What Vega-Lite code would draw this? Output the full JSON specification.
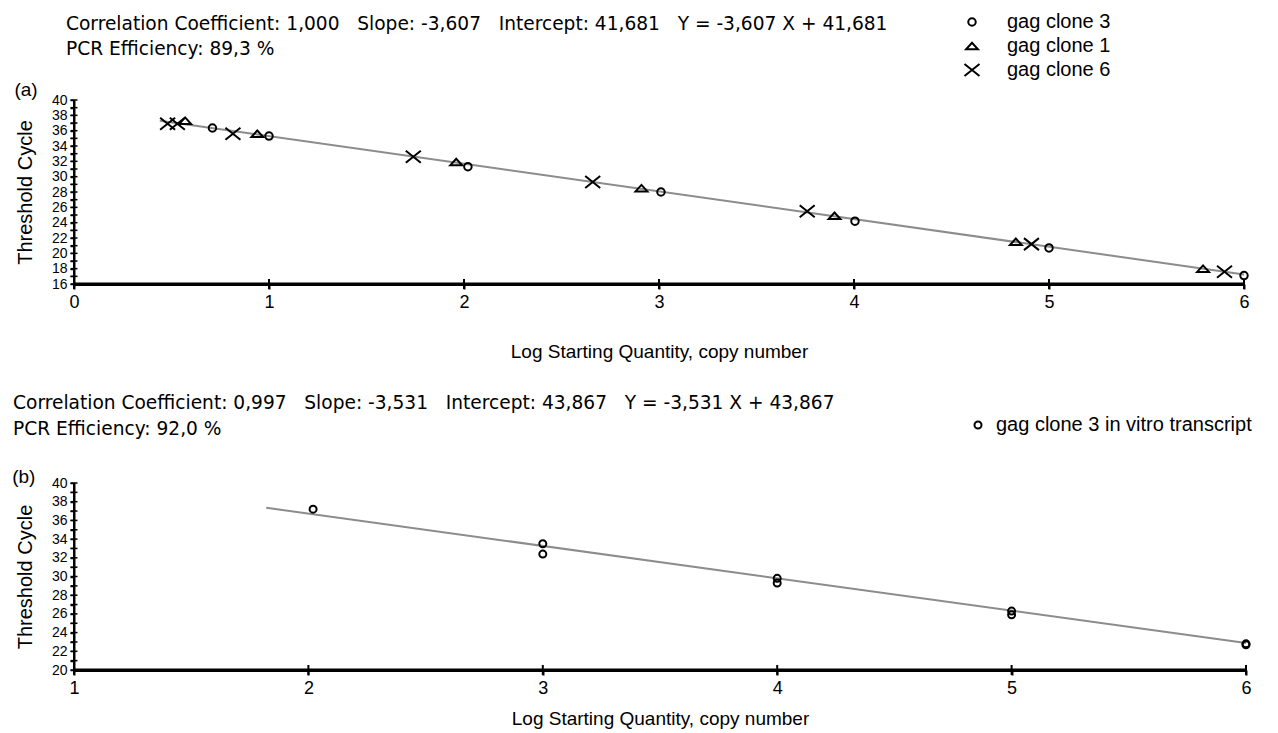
{
  "$schema": "https://vega.github.io/schema/vega-lite/v6.json",
  "padding": {"left": 12, "top": 12, "right": 5, "bottom": 5},
  "background": "white",
  "config": {
    "view": {"stroke": null},
    "font": "Liberation Sans",
    "axis": {"grid": false, "domainColor": "black", "tickColor": "black", "labelColor": "black", "titleColor": "black", "labelFont": "Liberation Sans", "titleFont": "Liberation Sans", "titleFontWeight": "normal", "labelFlush": false, "labelBound": false, "labelOverlap": false},
    "legend": {"labelFont": "Liberation Sans", "labelColor": "black"}
  },
  "bounds": "flush",
  "spacing": 199,
  "resolve": {"scale": {"shape": "independent", "size": "independent"}, "legend": {"shape": "independent", "size": "independent"}},
  "vconcat": [
    {
      "width": 1170,
      "height": 184,
      "resolve": {"axis": {"x": "independent", "y": "independent"}},
      "layer": [
        {
          "data": {"values": [{"logq": 0.44, "ct": 37.3}, {"logq": 6.0, "ct": 17.25}]},
          "mark": {"type": "line", "color": "#8c8c8c", "strokeWidth": 2},
          "encoding": {
            "x": {"field": "logq", "type": "quantitative", "scale": {"domain": [0, 6], "nice": false, "zero": false},
              "axis": {"values": [0, 1, 2, 3, 4, 5, 6], "format": "d", "title": "Log Starting Quantity, copy number", "titleFontSize": 19, "titlePadding": 31, "labelFontSize": 18, "labelPadding": 4, "tickSize": 5, "tickWidth": 2, "domainWidth": 3}},
            "y": {"field": "ct", "type": "quantitative", "scale": {"domain": [16, 40], "nice": false, "zero": false},
              "axis": {"values": [16,17,18,19,20,21,22,23,24,25,26,27,28,29,30,31,32,33,34,35,36,37,38,39,40], "labelExpr": "datum.value % 2 === 0 ? datum.label : ''", "title": "Threshold Cycle", "titleFontSize": 20, "titlePadding": 16, "labelFontSize": 14, "labelPadding": 3, "tickSize": 4, "tickWidth": 1.5, "domainWidth": 2}}
          }
        },
        {
          "data": {"values": [{}]},
          "mark": {"type": "rule", "color": "black", "strokeWidth": 3},
          "encoding": {
            "x": {"datum": 0, "type": "quantitative", "axis": null},
            "x2": {"datum": 6},
            "y": {"datum": 16, "type": "quantitative", "axis": null}
          }
        },
        {
          "data": {"values": [{}]},
          "mark": {"type": "rule", "color": "black", "strokeWidth": 2},
          "encoding": {
            "x": {"datum": 0, "type": "quantitative", "axis": null},
            "y": {"datum": 16, "type": "quantitative", "axis": null},
            "y2": {"datum": 40}
          }
        },
        {
          "data": {"values": [{"tick": 16},{"tick": 17},{"tick": 18},{"tick": 19},{"tick": 20},{"tick": 21},{"tick": 22},{"tick": 23},{"tick": 24},{"tick": 25},{"tick": 26},{"tick": 27},{"tick": 28},{"tick": 29},{"tick": 30},{"tick": 31},{"tick": 32},{"tick": 33},{"tick": 34},{"tick": 35},{"tick": 36},{"tick": 37},{"tick": 38},{"tick": 39},{"tick": 40}]},
          "mark": {"type": "tick", "orient": "horizontal", "color": "black", "size": 7, "thickness": 1.5, "opacity": 1},
          "encoding": {
            "x": {"datum": 0, "type": "quantitative", "axis": null},
            "y": {"field": "tick", "type": "quantitative", "axis": null}
          }
        },
        {
          "data": {"values": [{"tick": 0},{"tick": 1},{"tick": 2},{"tick": 3},{"tick": 4},{"tick": 5},{"tick": 6}]},
          "mark": {"type": "tick", "orient": "vertical", "color": "black", "size": 10, "thickness": 2, "opacity": 1},
          "encoding": {
            "x": {"field": "tick", "type": "quantitative", "axis": null},
            "y": {"datum": 16, "type": "quantitative", "axis": null}
          }
        },
        {
          "data": {"values": [
            {"clone": "gag clone 3", "logq": 0.71, "ct": 36.35},
            {"clone": "gag clone 3", "logq": 1.0, "ct": 35.3},
            {"clone": "gag clone 3", "logq": 2.02, "ct": 31.3},
            {"clone": "gag clone 3", "logq": 3.01, "ct": 28.0},
            {"clone": "gag clone 3", "logq": 4.005, "ct": 24.2},
            {"clone": "gag clone 3", "logq": 5.0, "ct": 20.7},
            {"clone": "gag clone 3", "logq": 6.0, "ct": 17.1},
            {"clone": "gag clone 1", "logq": 0.57, "ct": 37.3},
            {"clone": "gag clone 1", "logq": 0.94, "ct": 35.6},
            {"clone": "gag clone 1", "logq": 1.96, "ct": 31.9},
            {"clone": "gag clone 1", "logq": 2.91, "ct": 28.5},
            {"clone": "gag clone 1", "logq": 3.9, "ct": 24.9},
            {"clone": "gag clone 1", "logq": 4.83, "ct": 21.5},
            {"clone": "gag clone 1", "logq": 5.79, "ct": 18.0},
            {"clone": "gag clone 6", "logq": 0.48, "ct": 36.9},
            {"clone": "gag clone 6", "logq": 0.53, "ct": 36.9},
            {"clone": "gag clone 6", "logq": 0.815, "ct": 35.6},
            {"clone": "gag clone 6", "logq": 1.74, "ct": 32.6},
            {"clone": "gag clone 6", "logq": 2.66, "ct": 29.3},
            {"clone": "gag clone 6", "logq": 3.76, "ct": 25.5},
            {"clone": "gag clone 6", "logq": 4.91, "ct": 21.2},
            {"clone": "gag clone 6", "logq": 5.9, "ct": 17.6}
          ]},
          "mark": {"type": "point", "filled": false, "color": "black", "strokeWidth": 2, "opacity": 1},
          "encoding": {
            "x": {"field": "logq", "type": "quantitative", "axis": null},
            "y": {"field": "ct", "type": "quantitative", "axis": null},
            "shape": {"field": "clone", "type": "nominal",
              "scale": {"domain": ["gag clone 3", "gag clone 1", "gag clone 6"], "range": ["circle", "M-1,0.55L1,0.55L0,-0.55Z", "M-1,-0.8L1,0.8M-1,0.8L1,-0.8"]},
              "legend": {"title": null, "orient": "none", "legendX": 888, "legendY": -88, "labelFontSize": 20, "labelOffset": 25, "rowPadding": 4, "labelLimit": 300, "symbolStrokeColor": "black", "symbolStrokeWidth": 2, "symbolFillColor": "transparent"}},
            "size": {"field": "clone", "type": "nominal",
              "scale": {"domain": ["gag clone 3", "gag clone 1", "gag clone 6"], "range": [56, 225, 196]},
              "legend": {"title": null, "orient": "none", "legendX": 888, "legendY": -88, "labelFontSize": 20, "labelOffset": 25, "rowPadding": 4, "labelLimit": 300, "symbolStrokeColor": "black", "symbolStrokeWidth": 2, "symbolFillColor": "transparent"}}
          }
        },
        {
          "data": {"values": [{"panel": "(a)"}]},
          "mark": {"type": "text", "font": "Liberation Sans", "fontSize": 19, "color": "black", "align": "center", "baseline": "middle"},
          "encoding": {
            "x": {"datum": -0.246, "type": "quantitative", "axis": null},
            "y": {"datum": 41.3, "type": "quantitative", "axis": null},
            "text": {"field": "panel"}
          }
        },
        {
          "data": {"values": [{"header": "Correlation Coefficient: 1,000 \u00a0 Slope: -3,607 \u00a0 Intercept: 41,681 \u00a0 Y = -3,607 X + 41,681"}]},
          "mark": {"type": "text", "font": "DejaVu Sans", "fontSize": 18.6, "color": "black", "align": "left", "baseline": "middle"},
          "encoding": {
            "x": {"datum": -0.041, "type": "quantitative", "axis": null},
            "y": {"datum": 49.9, "type": "quantitative", "axis": null},
            "text": {"field": "header"}
          }
        },
        {
          "data": {"values": [{"header": "PCR Efficiency: 89,3 %"}]},
          "mark": {"type": "text", "font": "DejaVu Sans", "fontSize": 18.6, "color": "black", "align": "left", "baseline": "middle"},
          "encoding": {
            "x": {"datum": -0.041, "type": "quantitative", "axis": null},
            "y": {"datum": 46.65, "type": "quantitative", "axis": null},
            "text": {"field": "header"}
          }
        }
      ]
    },
    {
      "width": 1172,
      "height": 187,
      "resolve": {"axis": {"x": "independent", "y": "independent"}},
      "layer": [
        {
          "data": {"values": [{"logq": 1.82, "ct": 37.35}, {"logq": 6.0, "ct": 22.9}]},
          "mark": {"type": "line", "color": "#8c8c8c", "strokeWidth": 2},
          "encoding": {
            "x": {"field": "logq", "type": "quantitative", "scale": {"domain": [1, 6], "nice": false, "zero": false},
              "axis": {"values": [1, 2, 3, 4, 5, 6], "format": "d", "title": "Log Starting Quantity, copy number", "titleFontSize": 19, "titlePadding": 12, "labelFontSize": 18, "labelPadding": 4, "tickSize": 5, "tickWidth": 2, "domainWidth": 3}},
            "y": {"field": "ct", "type": "quantitative", "scale": {"domain": [20, 40], "nice": false, "zero": false},
              "axis": {"values": [20,21,22,23,24,25,26,27,28,29,30,31,32,33,34,35,36,37,38,39,40], "labelExpr": "datum.value % 2 === 0 ? datum.label : ''", "title": "Threshold Cycle", "titleFontSize": 20, "titlePadding": 16, "labelFontSize": 14, "labelPadding": 3, "tickSize": 4, "tickWidth": 1.5, "domainWidth": 2}}
          }
        },
        {
          "data": {"values": [{}]},
          "mark": {"type": "rule", "color": "black", "strokeWidth": 3},
          "encoding": {
            "x": {"datum": 1, "type": "quantitative", "axis": null},
            "x2": {"datum": 6},
            "y": {"datum": 20, "type": "quantitative", "axis": null}
          }
        },
        {
          "data": {"values": [{}]},
          "mark": {"type": "rule", "color": "black", "strokeWidth": 2},
          "encoding": {
            "x": {"datum": 1, "type": "quantitative", "axis": null},
            "y": {"datum": 20, "type": "quantitative", "axis": null},
            "y2": {"datum": 40}
          }
        },
        {
          "data": {"values": [{"tick": 20},{"tick": 21},{"tick": 22},{"tick": 23},{"tick": 24},{"tick": 25},{"tick": 26},{"tick": 27},{"tick": 28},{"tick": 29},{"tick": 30},{"tick": 31},{"tick": 32},{"tick": 33},{"tick": 34},{"tick": 35},{"tick": 36},{"tick": 37},{"tick": 38},{"tick": 39},{"tick": 40}]},
          "mark": {"type": "tick", "orient": "horizontal", "color": "black", "size": 7, "thickness": 1.5, "opacity": 1},
          "encoding": {
            "x": {"datum": 1, "type": "quantitative", "axis": null},
            "y": {"field": "tick", "type": "quantitative", "axis": null}
          }
        },
        {
          "data": {"values": [{"tick": 1},{"tick": 2},{"tick": 3},{"tick": 4},{"tick": 5},{"tick": 6}]},
          "mark": {"type": "tick", "orient": "vertical", "color": "black", "size": 10, "thickness": 2, "opacity": 1},
          "encoding": {
            "x": {"field": "tick", "type": "quantitative", "axis": null},
            "y": {"datum": 20, "type": "quantitative", "axis": null}
          }
        },
        {
          "data": {"values": [
            {"sample": "gag clone 3 in vitro transcript", "logq": 2.02, "ct": 37.2},
            {"sample": "gag clone 3 in vitro transcript", "logq": 3.0, "ct": 33.5},
            {"sample": "gag clone 3 in vitro transcript", "logq": 3.0, "ct": 32.4},
            {"sample": "gag clone 3 in vitro transcript", "logq": 4.0, "ct": 29.8},
            {"sample": "gag clone 3 in vitro transcript", "logq": 4.0, "ct": 29.3},
            {"sample": "gag clone 3 in vitro transcript", "logq": 5.0, "ct": 26.3},
            {"sample": "gag clone 3 in vitro transcript", "logq": 5.0, "ct": 25.9},
            {"sample": "gag clone 3 in vitro transcript", "logq": 6.0, "ct": 22.8},
            {"sample": "gag clone 3 in vitro transcript", "logq": 6.0, "ct": 22.7}
          ]},
          "mark": {"type": "point", "filled": false, "color": "black", "strokeWidth": 2, "opacity": 1, "size": 49},
          "encoding": {
            "x": {"field": "logq", "type": "quantitative", "axis": null},
            "y": {"field": "ct", "type": "quantitative", "axis": null},
            "shape": {"field": "sample", "type": "nominal",
              "scale": {"domain": ["gag clone 3 in vitro transcript"], "range": ["circle"]},
              "legend": {"title": null, "orient": "none", "legendX": 894, "legendY": -68, "labelFontSize": 20, "labelOffset": 8, "labelLimit": 400, "symbolSize": 49, "symbolStrokeColor": "black", "symbolStrokeWidth": 2, "symbolFillColor": "transparent"}}
          }
        },
        {
          "data": {"values": [{"panel": "(b)"}]},
          "mark": {"type": "text", "font": "Liberation Sans", "fontSize": 19, "color": "black", "align": "center", "baseline": "middle"},
          "encoding": {
            "x": {"datum": 0.786, "type": "quantitative", "axis": null},
            "y": {"datum": 40.64, "type": "quantitative", "axis": null},
            "text": {"field": "panel"}
          }
        },
        {
          "data": {"values": [{"header": "Correlation Coefficient: 0,997 \u00a0 Slope: -3,531 \u00a0 Intercept: 43,867 \u00a0 Y = -3,531 X + 43,867"}]},
          "mark": {"type": "text", "font": "DejaVu Sans", "fontSize": 18.6, "color": "black", "align": "left", "baseline": "middle"},
          "encoding": {
            "x": {"datum": 0.74, "type": "quantitative", "axis": null},
            "y": {"datum": 48.56, "type": "quantitative", "axis": null},
            "text": {"field": "header"}
          }
        },
        {
          "data": {"values": [{"header": "PCR Efficiency: 92,0 %"}]},
          "mark": {"type": "text", "font": "DejaVu Sans", "fontSize": 18.6, "color": "black", "align": "left", "baseline": "middle"},
          "encoding": {
            "x": {"datum": 0.74, "type": "quantitative", "axis": null},
            "y": {"datum": 45.78, "type": "quantitative", "axis": null},
            "text": {"field": "header"}
          }
        }
      ]
    }
  ]
}
